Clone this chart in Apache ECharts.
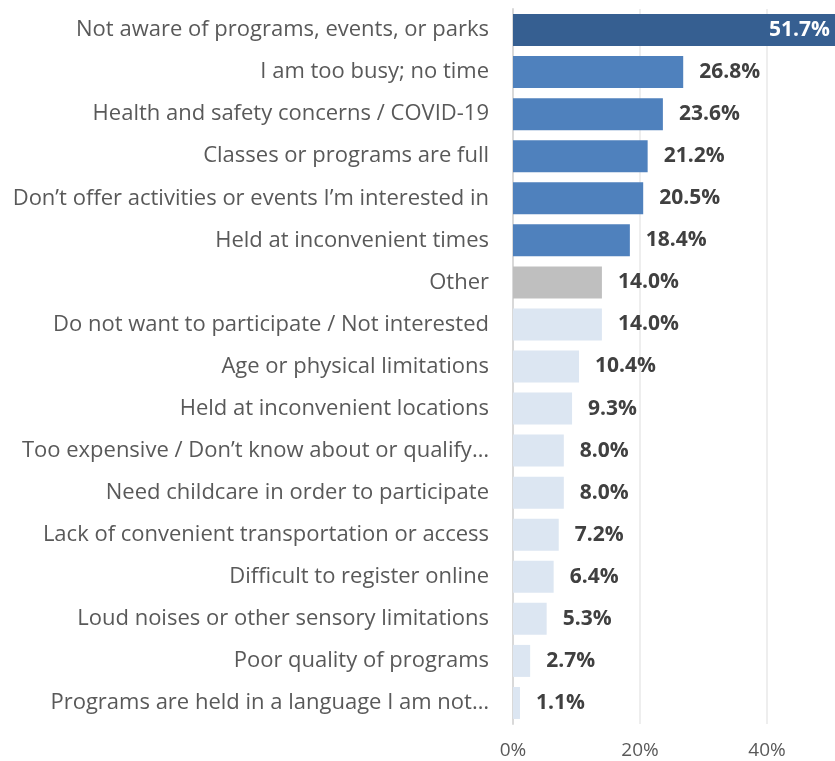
<!DOCTYPE html>
<html><head><meta charset="utf-8">
<script src="https://cdn.jsdelivr.net/npm/echarts@6/dist/echarts.min.js"></script>
<style>html,body{margin:0;padding:0;background:#fff}#c{width:835px;height:761px}</style>
</head><body><div id="c"></div>
<script>
const categories = [
  "Not aware of programs, events, or parks",
  "I am too busy; no time",
  "Health and safety concerns / COVID-19",
  "Classes or programs are full",
  "Don\u2019t offer activities or events I\u2019m interested in",
  "Held at inconvenient times",
  "Other",
  "Do not want to participate / Not interested",
  "Age or physical limitations",
  "Held at inconvenient locations",
  "Too expensive / Don\u2019t know about or qualify\u2026",
  "Need childcare in order to participate",
  "Lack of convenient transportation or access",
  "Difficult to register online",
  "Loud noises or other sensory limitations",
  "Poor quality of programs",
  "Programs are held in a language I am not\u2026"
];
const values = [51.7, 26.8, 23.6, 21.2, 20.5, 18.4, 14.0, 14.0, 10.4, 9.3, 8.0, 8.0, 7.2, 6.4, 5.3, 2.7, 1.1];
const groups = ["top","main","main","main","main","main","other","rest","rest","rest","rest","rest","rest","rest","rest","rest","rest"];
const xTickStep = 20;
const xMax = 50.7; // visible extent of the axis at the right edge of the picture

const colorMap = {top:"#365f91", main:"#4f81bd", other:"#bfbfbf", rest:"#dce6f2"};
const font = "'Open Sans', sans-serif";

const data = values.map((v,i)=>{
  const d = {value:v, itemStyle:{color:colorMap[groups[i]]}};
  if (i===0) d.label = {position:'insideRight', distance:5, color:'#ffffff'};
  return d;
});

const chart = echarts.init(document.getElementById('c'));
chart.setOption({
  animation:false,
  grid:{left:513, right:0, top:9, bottom:37, containLabel:false},
  xAxis:{type:'value', min:0, max:xMax, interval:xTickStep,
    axisLine:{show:false}, axisTick:{show:false},
    splitLine:{show:true, lineStyle:{color:'#e9e9e9', width:1.5}, showMaxLine:false},
    axisLabel:{formatter:'{value}%', color:'#595959', fontSize:19, fontFamily:font, margin:17,
      showMaxLabel:false}
  },
  yAxis:{type:'category', data:categories, inverse:true,
    axisLine:{show:true, lineStyle:{color:'#d9d9d9', width:2}},
    axisTick:{show:false},
    axisLabel:{color:'#595959', fontSize:22, fontFamily:font, margin:24}
  },
  series:[{type:'bar', data:data, barWidth:32, clip:true,
    label:{show:true, position:'right', distance:16, formatter:p=>p.value.toFixed(1)+'%',
      color:'#404040', fontWeight:'bold', fontSize:21, fontFamily:font}
  }]
});
</script></body></html>
